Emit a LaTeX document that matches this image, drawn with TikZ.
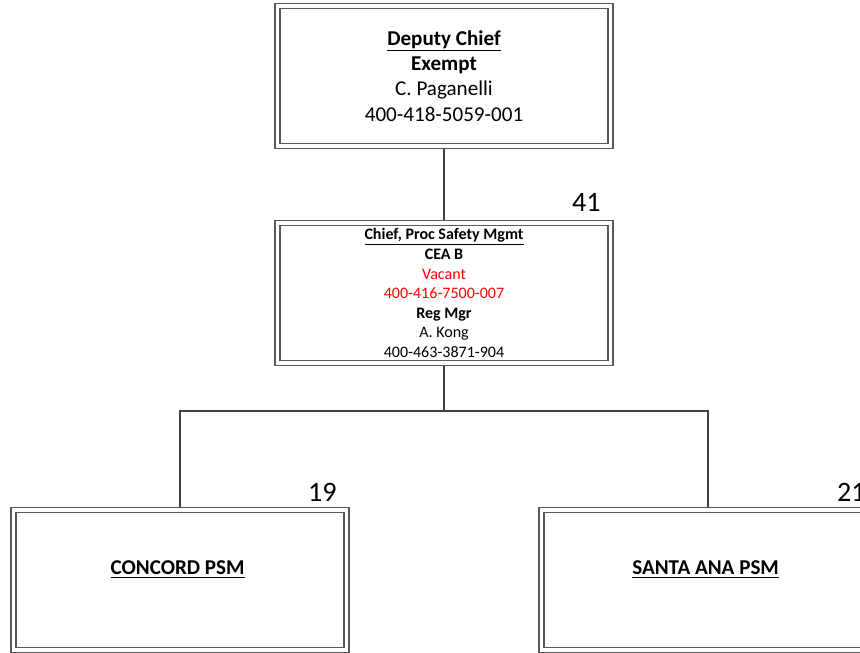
\documentclass[tikz,border=0pt]{standalone}
\usepackage{fontspec}
\setmainfont{Carlito}
\usepackage{tikz}
\usetikzlibrary{positioning,backgrounds}
\definecolor{frame}{HTML}{5A5A5A}
\definecolor{wire}{HTML}{404040}
\definecolor{vacant}{HTML}{FF0000}

\begin{document}
\begin{tikzpicture}[x=0.025cm, y=-0.025cm,
  post/.style={draw=frame, double=white, line width=0.85pt, double distance=2.7pt,
    fill=white, minimum width=8.32cm, minimum height=3.5cm, align=center, inner sep=0pt},
  link/.style={draw=wire, line width=1.4pt},
  count/.style={inner sep=0pt, font=\fontsize{20}{24}\selectfont}
]
  \useasboundingbox (0,0) rectangle (860,652);
  \clip (0,0) rectangle (860,652);

  % Top: deputy chief
  \node[post, font=\fontsize{15}{18}\selectfont] (deputy) at (444,76) {
    \textbf{\underline{Deputy Chief}}\\
    \textbf{Exempt}\\
    C. Paganelli\\
    400-418-5059-001
  };

  % Middle: process safety chief
  \node[post, font=\fontsize{11.4}{13.9}\selectfont] (chief) at (444,293) {
    \textbf{\underline{Chief, Proc Safety Mgmt}}\\
    \textbf{CEA B}\\
    \textcolor{vacant}{Vacant}\\
    \textcolor{vacant}{400-416-7500-007}\\
    \textbf{Reg Mgr}\\
    A. Kong\\
    400-463-3871-904
  };
  \node[count, anchor=base east] (n41) at (601,211) {41};

  % Bottom: units
  \node[post, minimum height=3.5cm, text depth=17pt, font=\fontsize{15}{18}\selectfont\bfseries] (concord) at (180,580) {
    \underline{CONCORD PSM}
  };
  \node[count, anchor=base east] (n19) at (337,501) {19};

  \node[post, minimum height=3.5cm, text depth=17pt, font=\fontsize{15}{18}\selectfont\bfseries] (santa) at (708,580) {
    \underline{SANTA ANA PSM}
  };
  \node[count, anchor=base east] (n21) at (866,501) {21};

  % Connectors
  \begin{scope}[on background layer]
    \coordinate (fork) at (444,411);
    \draw[link] (deputy) -- (chief);
    \draw[link] (chief) -- (fork);
    \draw[link] (fork) -| (concord.north);
    \draw[link] (fork) -| (santa.north);
  \end{scope}
\end{tikzpicture}
\end{document}
